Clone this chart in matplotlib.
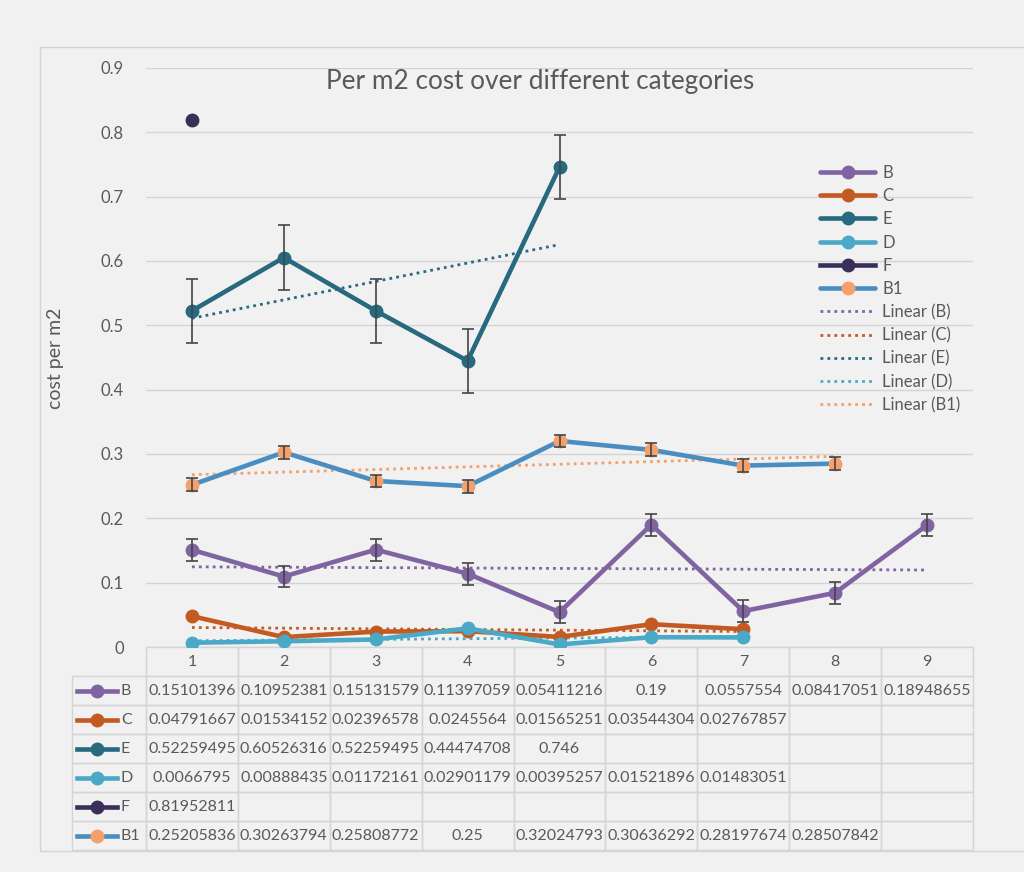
import matplotlib.pyplot as plt
import numpy as np
from matplotlib.patches import Rectangle

plt.rcParams['font.family'] = ['Lato', 'DejaVu Sans']

categories = [1, 2, 3, 4, 5, 6, 7, 8, 9]
B = [0.15101396, 0.10952381, 0.15131579, 0.11397059, 0.05411216, 0.19, 0.0557554, 0.08417051, 0.18948655]
C = [0.04791667, 0.01534152, 0.02396578, 0.0245564, 0.01565251, 0.03544304, 0.02767857]
E = [0.52259495, 0.60526316, 0.52259495, 0.44474708, 0.746]
D = [0.0066795, 0.00888435, 0.01172161, 0.02901179, 0.00395257, 0.01521896, 0.01483051]
F = [0.81952811]
B1 = [0.25205836, 0.30263794, 0.25808772, 0.25, 0.32024793, 0.30636292, 0.28197674, 0.28507842]

# error bar half widths
err_B = 0.017
err_E = 0.05
err_B1 = 0.01

names = ['B', 'C', 'E', 'D', 'F', 'B1']
series = [B, C, E, D, F, B1]
errs = [err_B, None, err_E, None, None, err_B1]
line_colors = ['#8064a2', '#c25a22', '#276a80', '#4aa9c6', '#3a2f58', '#4a8dc0']
marker_colors = ['#8064a2', '#c25a22', '#276a80', '#4aa9c6', '#3a2f58', '#f4a06a']

bg = '#f1f1f1'
txt = '#595959'
grid = '#d4d4d4'

fig = plt.figure(figsize=(10.24, 8.72), dpi=100, facecolor=bg)
ax = fig.add_axes([146 / 1024, 225 / 872, 827 / 1024, 579 / 872])
ax.set_facecolor('none')

# chart border
fig.patches.append(Rectangle((40 / 1024, 21 / 872), 1.0, 804 / 872, transform=fig.transFigure,
                             fill=False, edgecolor=grid, lw=1, zorder=0))

handles = []
for name, ys, err, lc, mc in zip(names, series, errs, line_colors, marker_colors):
    xs = categories[:len(ys)]
    if len(ys) > 1:
        lw = 3.3
    else:
        lw = 0
    h, = ax.plot(xs, ys, color=lc, lw=lw, marker='o', ms=9, mfc=mc, mec=mc, zorder=3,
                 label=name, solid_capstyle='round')
    if err is not None:
        ax.errorbar(xs, ys, yerr=err, fmt='none', ecolor='#454545', elinewidth=1.2,
                    capsize=4, capthick=1.2, zorder=4)
    handles.append(h)

# F has a single point, but its legend key still shows a line
handles[4] = plt.Line2D([], [], color=line_colors[4], lw=3.3, marker='o', ms=9)

trend_names = ['B', 'C', 'E', 'D', 'B1']
trend_handles = []
for name in trend_names:
    i = names.index(name)
    ys = series[i]
    xs = np.array(categories[:len(ys)])
    k, b0 = np.polyfit(xs, ys, 1)
    tl, = ax.plot(xs, k * xs + b0, ls=(0, (1, 1.5)), lw=2, color=marker_colors[i], zorder=2,
                  label='Linear (%s)' % name)
    trend_handles.append(tl)

ax.set_xlim(0.5, 9.5)
ax.set_ylim(0, 0.9)
ax.set_yticks(np.arange(0, 0.91, 0.1))
ax.set_yticklabels(['0'] + ['%.1f' % v for v in np.arange(0.1, 0.91, 0.1)])
ax.yaxis.grid(True, color=grid, lw=1)
ax.set_axisbelow(True)
ax.set_xticks([])
ax.tick_params(axis='y', length=0, labelsize=12, labelcolor=txt, pad=16)
for s in ax.spines.values():
    s.set_visible(False)

fig.text(540 / 1024, 1 - 82 / 872, 'Per m2 cost over different categories', ha='center',
         va='center', fontsize=18.8, color=txt)
fig.text(55 / 1024, 1 - 358 / 872, 'cost per m2', rotation=90, ha='center', va='center',
         fontsize=14, color=txt)

leg = ax.legend(handles + trend_handles, names + ['Linear (%s)' % n for n in trend_names],
                loc='upper left', bbox_to_anchor=((820 - 146) / 827, (647 - 165) / 579),
                frameon=False, fontsize=12, labelcolor=txt, handlelength=3.3,
                handletextpad=0.45, labelspacing=0.43, borderaxespad=0, borderpad=0)

# data table
cell_text = [[''] + [str(c) for c in categories]]
for ys in series:
    cell_text.append([''] + [str(v) for v in ys] + [''] * (len(categories) - len(ys)))
n_rows = len(cell_text)
tbl_h = 203 / 579
tbl = ax.table(cellText=cell_text, colWidths=[74] + [827 / 9] * 9, cellLoc='center',
               bbox=[-74 / 827, -tbl_h, 1 + 74 / 827, tbl_h])
tbl.auto_set_font_size(False)
tbl.set_fontsize(11.5)
for (r, c), cell in tbl.get_celld().items():
    cell.set_edgecolor(grid)
    cell.set_facecolor('none')
    cell.get_text().set_color(txt)
    if r == 0 and c == 0:
        cell.visible_edges = ''

# row label keys
for i, (name, lc, mc) in enumerate(zip(names, line_colors, marker_colors)):
    yc = -(i + 1.5) / n_rows * tbl_h
    ax.plot([-69 / 827, -29 / 827], [yc, yc], transform=ax.transAxes, clip_on=False,
            color=lc, lw=3.3)
    ax.plot([-49 / 827], [yc], transform=ax.transAxes, clip_on=False, marker='o', ms=9,
            color=mc)
    ax.text(-25 / 827, yc, name, transform=ax.transAxes, ha='left', va='center',
            fontsize=11.5, color=txt)

fig.savefig('out.png', dpi=100, facecolor=bg)
